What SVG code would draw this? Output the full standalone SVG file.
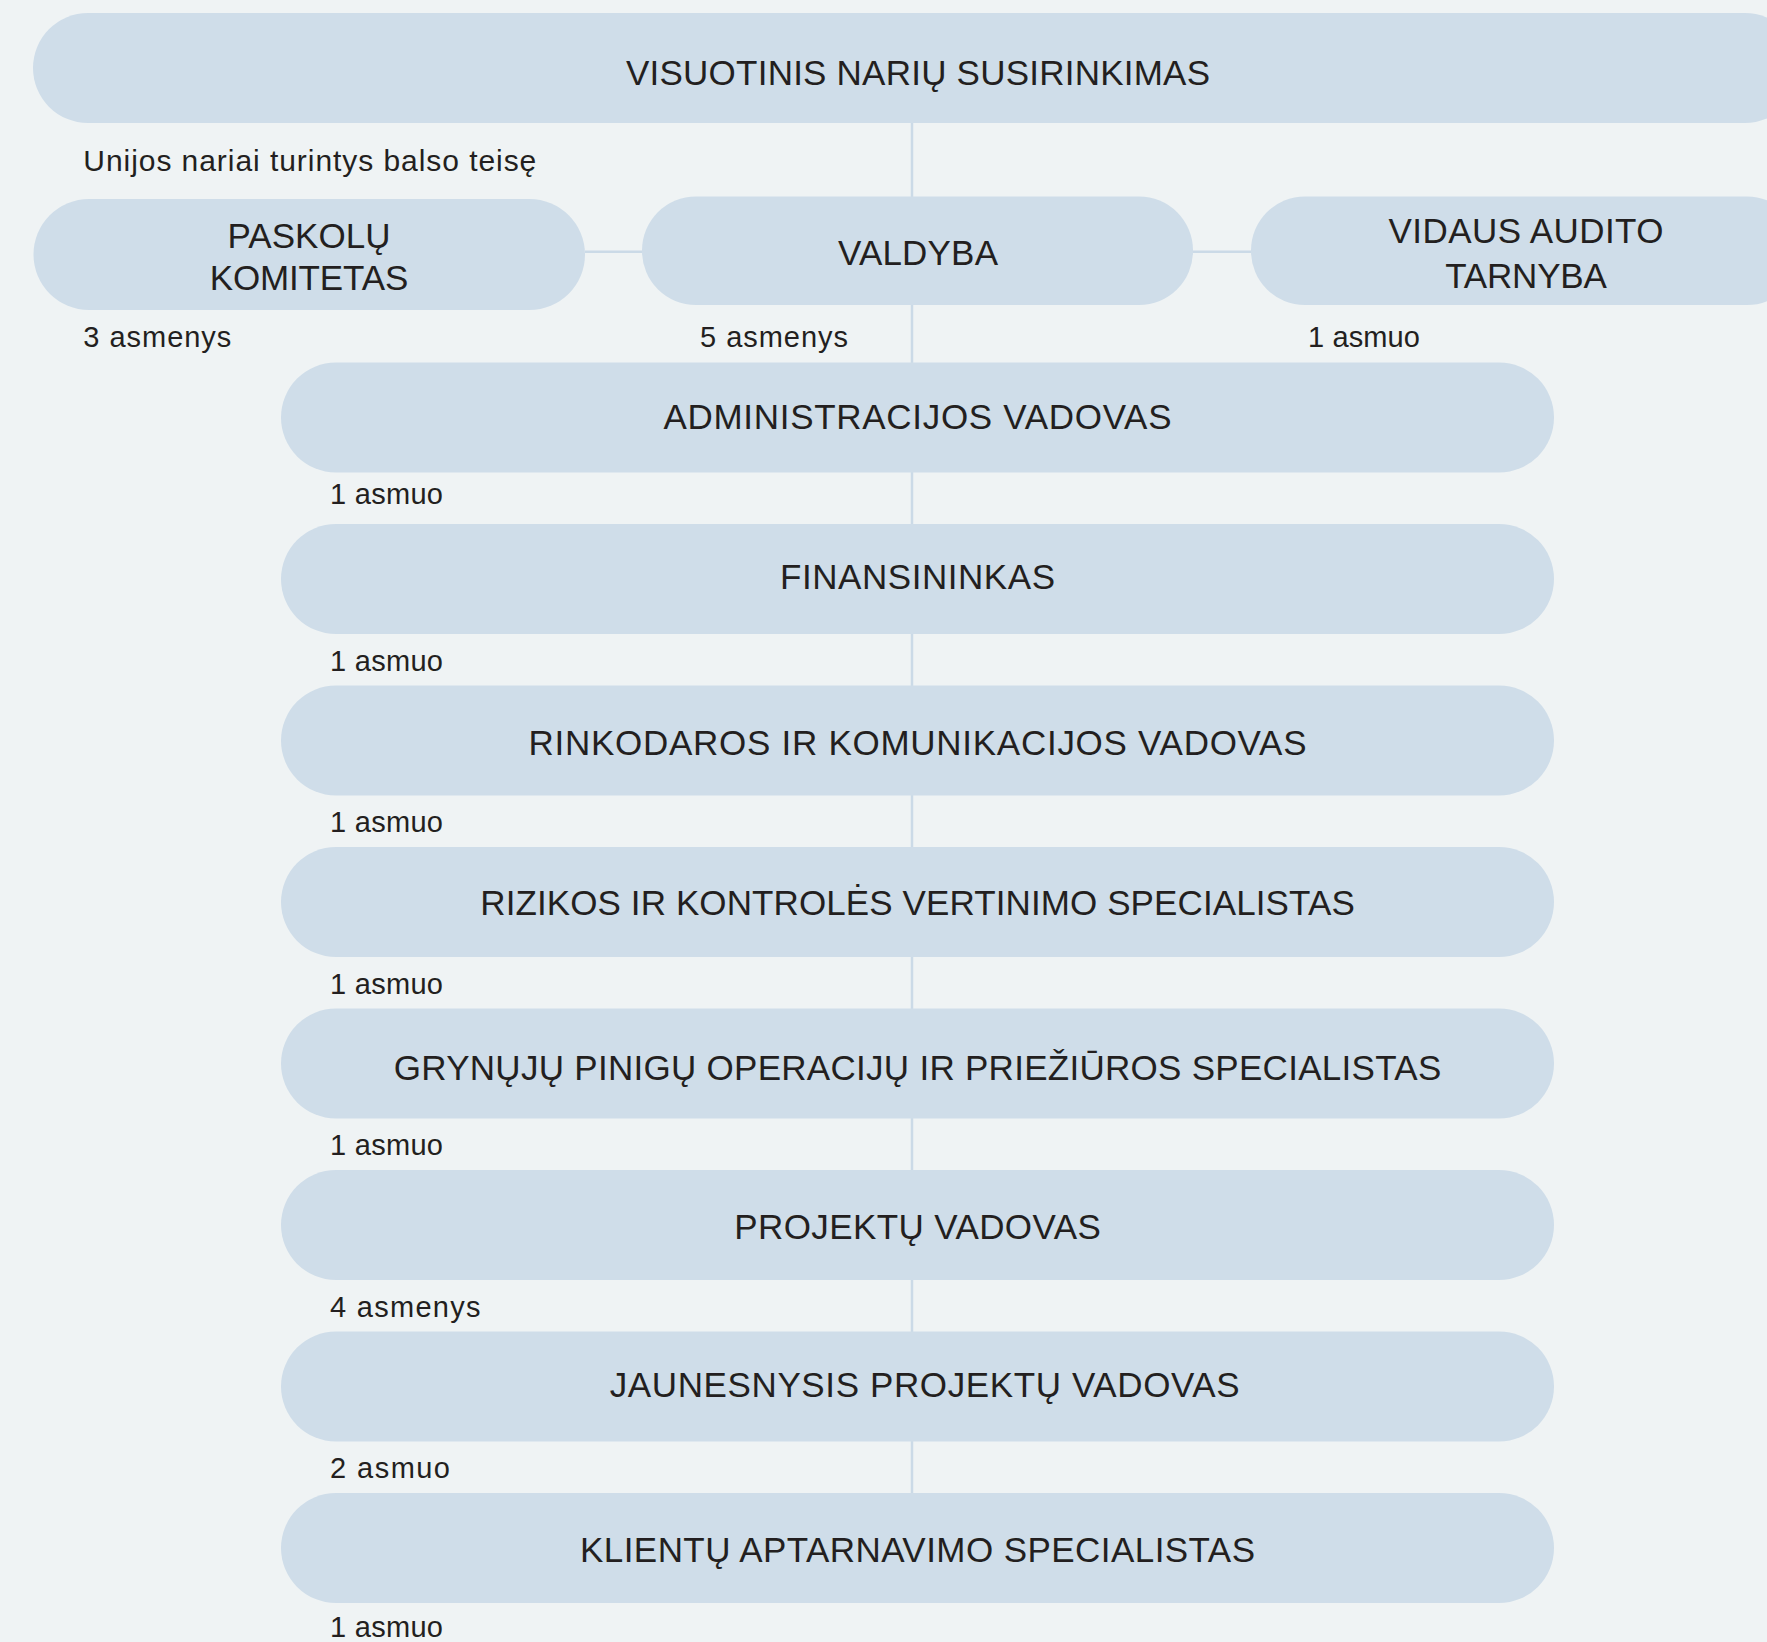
<svg xmlns="http://www.w3.org/2000/svg" width="1767" height="1642" viewBox="0 0 1767 1642">
  <style>
    .bg { fill: #eff3f4; }
    .box { fill: #cfdde9; }
    .conn { stroke: #cbdae7; stroke-width: 2.5; fill: none; }
    .t { font-family: "Liberation Sans", Arial, sans-serif; font-size: 35px; fill: #231f20; text-anchor: middle; }
    .lbl { font-family: "Liberation Sans", Arial, sans-serif; font-size: 29px; fill: #231f20; text-anchor: start; }
  </style>
  <rect class="bg" x="0" y="0" width="1767" height="1642"/>

  <g id="connectors">
    <line class="conn" x1="912" y1="123" x2="912" y2="1493"/>
    <line class="conn" x1="585" y1="251.7" x2="642" y2="251.7"/>
    <line class="conn" x1="1193" y1="251.7" x2="1251" y2="251.7"/>
  </g>

  <g id="visuotinis">
    <rect class="box" x="33" y="13" width="1767" height="110" rx="55" ry="55"/>
    <text class="t" x="918" y="85" textLength="584">VISUOTINIS NARIŲ SUSIRINKIMAS</text>
  </g>
  <text class="lbl" x="83.3" y="170.5" style="font-size:30px" textLength="453">Unijos nariai turintys balso teisę</text>

  <g id="paskolu">
    <rect class="box" x="33.5" y="199" width="551.5" height="111" rx="55.5" ry="55.5"/>
    <text class="t" x="309" y="248" textLength="163">PASKOLŲ</text>
    <text class="t" x="309" y="290" textLength="198.5">KOMITETAS</text>
    <text class="lbl" x="83.3" y="347" textLength="148">3 asmenys</text>
  </g>

  <g id="valdyba">
    <rect class="box" x="642" y="196.5" width="551" height="108.5" rx="54" ry="54"/>
    <text class="t" x="918" y="265" textLength="160">VALDYBA</text>
    <text class="lbl" x="700" y="347" textLength="148">5 asmenys</text>
  </g>

  <g id="vidaus-audito">
    <rect class="box" x="1251" y="196.5" width="550" height="108.5" rx="54" ry="54"/>
    <text class="t" x="1526" y="243" textLength="275">VIDAUS AUDITO</text>
    <text class="t" x="1526" y="288" textLength="161.7">TARNYBA</text>
    <text class="lbl" x="1308" y="347" textLength="112">1 asmuo</text>
  </g>

  <g id="administracijos-vadovas">
    <rect class="box" x="281" y="362.5" width="1273" height="110" rx="55" ry="55"/>
    <text class="t" x="917.5" y="429" textLength="508">ADMINISTRACIJOS VADOVAS</text>
    <text class="lbl" x="330" y="504" textLength="113">1 asmuo</text>
  </g>

  <g id="finansininkas">
    <rect class="box" x="281" y="524" width="1273" height="110" rx="55" ry="55"/>
    <text class="t" x="917.5" y="589" textLength="275">FINANSININKAS</text>
    <text class="lbl" x="330" y="670.5" textLength="113">1 asmuo</text>
  </g>

  <g id="rinkodaros">
    <rect class="box" x="281" y="685.5" width="1273" height="110" rx="55" ry="55"/>
    <text class="t" x="917.5" y="755" textLength="778">RINKODAROS IR KOMUNIKACIJOS VADOVAS</text>
    <text class="lbl" x="330" y="832" textLength="113">1 asmuo</text>
  </g>

  <g id="rizikos">
    <rect class="box" x="281" y="847" width="1273" height="110" rx="55" ry="55"/>
    <text class="t" x="917.5" y="915" textLength="874.5">RIZIKOS IR KONTROLĖS VERTINIMO SPECIALISTAS</text>
    <text class="lbl" x="330" y="994" textLength="113">1 asmuo</text>
  </g>

  <g id="grynuju-pinigu">
    <rect class="box" x="281" y="1008.5" width="1273" height="110" rx="55" ry="55"/>
    <text class="t" x="917.5" y="1080" textLength="1047.5">GRYNŲJŲ PINIGŲ OPERACIJŲ IR PRIEŽIŪROS SPECIALISTAS</text>
    <text class="lbl" x="330" y="1155" textLength="113">1 asmuo</text>
  </g>

  <g id="projektu-vadovas">
    <rect class="box" x="281" y="1170" width="1273" height="110" rx="55" ry="55"/>
    <text class="t" x="917.5" y="1239" textLength="366.5">PROJEKTŲ VADOVAS</text>
    <text class="lbl" x="330" y="1317" textLength="150.5">4 asmenys</text>
  </g>

  <g id="jaunesnysis">
    <rect class="box" x="281" y="1331.5" width="1273" height="110" rx="55" ry="55"/>
    <text class="t" x="924.7" y="1397" textLength="630">JAUNESNYSIS PROJEKTŲ VADOVAS</text>
    <text class="lbl" x="330" y="1478" textLength="120">2 asmuo</text>
  </g>

  <g id="klientu">
    <rect class="box" x="281" y="1493" width="1273" height="110" rx="55" ry="55"/>
    <text class="t" x="917.5" y="1561.7" textLength="675">KLIENTŲ APTARNAVIMO SPECIALISTAS</text>
    <text class="lbl" x="330" y="1637" textLength="113">1 asmuo</text>
  </g>
</svg>
